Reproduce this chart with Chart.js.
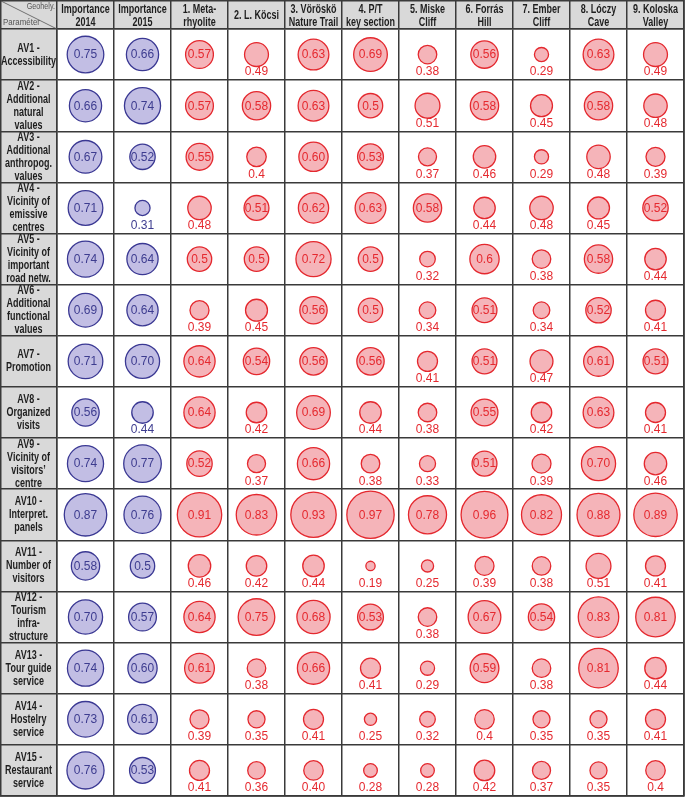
<!DOCTYPE html>
<html>
<head>
<meta charset="utf-8">
<script src="https://cdn.jsdelivr.net/npm/chart.js@4/dist/chart.umd.min.js"></script>
<style>
  body { margin: 0; background: #fff; }
  #caja { width: 685px; height: 798px; }
</style>
</head>
<body>
<div id="caja"><canvas id="grafico"></canvas></div>
<script>
// encabezados de columnas y filas
const columnas = [
  ['Importance', '2014'], ['Importance', '2015'], ['1. Meta-', 'rhyolite'], ['2. L. Köcsi'],
  ['3. Vöröskö', 'Nature Trail'], ['4. P/T', 'key section'], ['5. Miske', 'Cliff'],
  ['6. Forrás', 'Hill'], ['7. Ember', 'Cliff'], ['8. Lóczy', 'Cave'], ['9. Koloska', 'Valley']
];
const parametros = [
  ['AV1 -', 'Accessibility'], ['AV2 -', 'Additional', 'natural', 'values'],
  ['AV3 -', 'Additional', 'anthropog.', 'values'], ['AV4 -', 'Vicinity of', 'emissive', 'centres'],
  ['AV5 -', 'Vicinity of', 'important', 'road netw.'], ['AV6 -', 'Additional', 'functional', 'values'],
  ['AV7 -', 'Promotion'], ['AV8 -', 'Organized', 'visits'], ['AV9 -', 'Vicinity of', 'visitors\u2019', 'centre'],
  ['AV10 -', 'Interpret.', 'panels'], ['AV11 -', 'Number of', 'visitors'],
  ['AV12 -', 'Tourism', 'infra-', 'structure'], ['AV13 -', 'Tour guide', 'service'],
  ['AV14 -', 'Hostelry', 'service'], ['AV15 -', 'Restaurant', 'service']
];

// valores por columna (AV1 ... AV15)
const imp2014      = ['0.75','0.66','0.67','0.71','0.74','0.69','0.71','0.56','0.74','0.87','0.58','0.70','0.74','0.73','0.76'];
const imp2015      = ['0.66','0.74','0.52','0.31','0.64','0.64','0.70','0.44','0.77','0.76','0.5','0.57','0.60','0.61','0.53'];
const metaRhyolite = ['0.57','0.57','0.55','0.48','0.5','0.39','0.64','0.64','0.52','0.91','0.46','0.64','0.61','0.39','0.41'];
const lKocsi       = ['0.49','0.58','0.4','0.51','0.5','0.45','0.54','0.42','0.37','0.83','0.42','0.75','0.38','0.35','0.36'];
const voroskoTrail = ['0.63','0.63','0.60','0.62','0.72','0.56','0.56','0.69','0.66','0.93','0.44','0.68','0.66','0.41','0.40'];
const ptSection    = ['0.69','0.5','0.53','0.63','0.5','0.5','0.56','0.44','0.38','0.97','0.19','0.53','0.41','0.25','0.28'];
const miskeCliff   = ['0.38','0.51','0.37','0.58','0.32','0.34','0.41','0.38','0.33','0.78','0.25','0.38','0.29','0.32','0.28'];
const forrasHill   = ['0.56','0.58','0.46','0.44','0.6','0.51','0.51','0.55','0.51','0.96','0.39','0.67','0.59','0.4','0.42'];
const emberCliff   = ['0.29','0.45','0.29','0.48','0.38','0.34','0.47','0.42','0.39','0.82','0.38','0.54','0.38','0.35','0.37'];
const loczyCave    = ['0.63','0.58','0.48','0.45','0.58','0.52','0.61','0.63','0.70','0.88','0.51','0.83','0.81','0.35','0.35'];
const koloskaValley= ['0.49','0.48','0.39','0.52','0.44','0.41','0.51','0.41','0.46','0.89','0.41','0.81','0.44','0.41','0.4'];

const series = [imp2014, imp2015, metaRhyolite, lKocsi, voroskoTrail, ptSection,
                miskeCliff, forrasHill, emberCliff, loczyCave, koloskaValley];

// celdas con el numero debajo aunque sea >= 0.5 [columna, fila]
const abajo = [[6, 1], [9, 10]];

const linea = '#3a3a3a';
const gris = '#d9d9d9';
const azul = { fondo: '#c2bee4', borde: '#3a3893', texto: '#3d3c8f' };
const rojo = { fondo: '#f5b4b9', borde: '#e4282e', texto: '#e5292f' };
const fuenteTitulo = 'bold 12.5px "Liberation Sans", Arial, sans-serif';
const estrecho = 0.72; // la fuente original es condensada

const escala = 24.4;

const datasets = series.map((vals, i) => {
  const c = i < 2 ? azul : rojo;
  return {
    data: vals.map((v, j) => ({ x: columnas[i], y: parametros[j], r: parseFloat(v) * escala })),
    backgroundColor: c.fondo,
    borderColor: c.borde,
    borderWidth: 1.3,
    hoverRadius: 0
  };
});

function textoEstrecho(ctx, txt, x, y, f) {
  ctx.save();
  ctx.translate(x, y);
  ctx.scale(f, 1);
  ctx.fillText(txt, 0, 0);
  ctx.restore();
}

const fondo = {
  id: 'fondo',
  beforeDraw(chart) {
    const { ctx, chartArea: a, width, height } = chart;
    ctx.save();
    ctx.fillStyle = '#fff';
    ctx.fillRect(0, 0, width, height);
    ctx.fillStyle = gris;
    ctx.fillRect(0, 0, a.right, a.top);
    ctx.fillRect(0, 0, a.left, a.bottom);
    ctx.restore();
  },
  afterDraw(chart) {
    const { ctx, chartArea: a } = chart;
    const sx = chart.scales.x, sy = chart.scales.y;
    ctx.save();
    // encabezados
    ctx.fillStyle = '#1e1e1e';
    ctx.font = fuenteTitulo;
    ctx.textAlign = 'center';
    ctx.textBaseline = 'middle';
    sx.ticks.forEach((t, i) => {
      const lin = [].concat(t.label);
      const x = sx.getPixelForTick(i);
      lin.forEach((l, k) => textoEstrecho(ctx, l, x, 16 + (k - (lin.length - 1) / 2) * 13, estrecho));
    });
    sy.ticks.forEach((t, j) => {
      const lin = [].concat(t.label);
      const y = sy.getPixelForTick(j);
      lin.forEach((l, k) => textoEstrecho(ctx, l, a.left / 2, y + (k - (lin.length - 1) / 2) * 13, estrecho));
    });
    // borde exterior y celda de la esquina
    ctx.strokeStyle = linea;
    ctx.lineWidth = 1.5;
    ctx.strokeRect(0.75, 0.75, a.right - 0.75, a.bottom - 0.75);
    ctx.lineWidth = 0.8;
    ctx.strokeStyle = '#555';
    ctx.beginPath();
    ctx.moveTo(1, 1);
    ctx.lineTo(a.left, a.top);
    ctx.stroke();
    ctx.fillStyle = '#555';
    ctx.font = '9px "Liberation Sans", Arial, sans-serif';
    ctx.textAlign = 'right';
    textoEstrecho(ctx, 'Geohely.', a.left - 2, 7, 0.8);
    ctx.textAlign = 'left';
    textoEstrecho(ctx, 'Paraméter', 3, 23, 0.88);
    ctx.restore();
  }
};

const etiquetas = {
  id: 'etiquetas',
  afterDatasetsDraw(chart) {
    const { ctx, chartArea: a } = chart;
    const alto = (a.bottom - a.top) / parametros.length;
    ctx.save();
    ctx.font = '12px "Liberation Sans", Arial, sans-serif';
    ctx.textAlign = 'center';
    ctx.textBaseline = 'middle';
    series.forEach((vals, i) => {
      chart.getDatasetMeta(i).data.forEach((pt, j) => {
        const v = parseFloat(vals[j]);
        const excep = abajo.some(e => e[0] === i && e[1] === j);
        const dentro = v >= 0.5 && !excep;
        ctx.fillStyle = i < 2 ? azul.texto : rojo.texto;
        ctx.fillText(vals[j], pt.x, dentro ? pt.y + 0.5 : pt.y + alto / 2 - 8);
      });
    });
    ctx.restore();
  }
};

function sinRelleno(s) {
  s.paddingLeft = 0; s.paddingRight = 0; s.paddingTop = 0; s.paddingBottom = 0;
}

new Chart(document.getElementById('grafico'), {
  type: 'bubble',
  data: { xLabels: columnas, yLabels: parametros, datasets: datasets },
  plugins: [fondo, etiquetas],
  options: {
    responsive: true,
    maintainAspectRatio: false,
    animation: false,
    events: [],
    layout: { autoPadding: false, padding: { right: 1, bottom: 2, top: 0, left: 0 } },
    plugins: { legend: { display: false }, tooltip: { enabled: false } },
    scales: {
      x: {
        type: 'category',
        position: 'top',
        offset: true,
        grid: { offset: true, color: linea, lineWidth: 1.5, drawTicks: true, tickLength: 29, tickColor: linea, tickWidth: 1.5 },
        border: { display: true, color: linea, width: 1.5 },
        ticks: { display: false, autoSkip: false },
        afterFit: (s) => { s.height = 29; sinRelleno(s); }
      },
      y: {
        type: 'category',
        offset: true,
        grid: { offset: true, color: linea, lineWidth: 1.5, drawTicks: true, tickLength: 57, tickColor: linea, tickWidth: 1.5 },
        border: { display: true, color: linea, width: 1.5 },
        ticks: { display: false, autoSkip: false },
        afterFit: (s) => { s.width = 57; sinRelleno(s); }
      }
    }
  }
});
</script>
</body>
</html>
